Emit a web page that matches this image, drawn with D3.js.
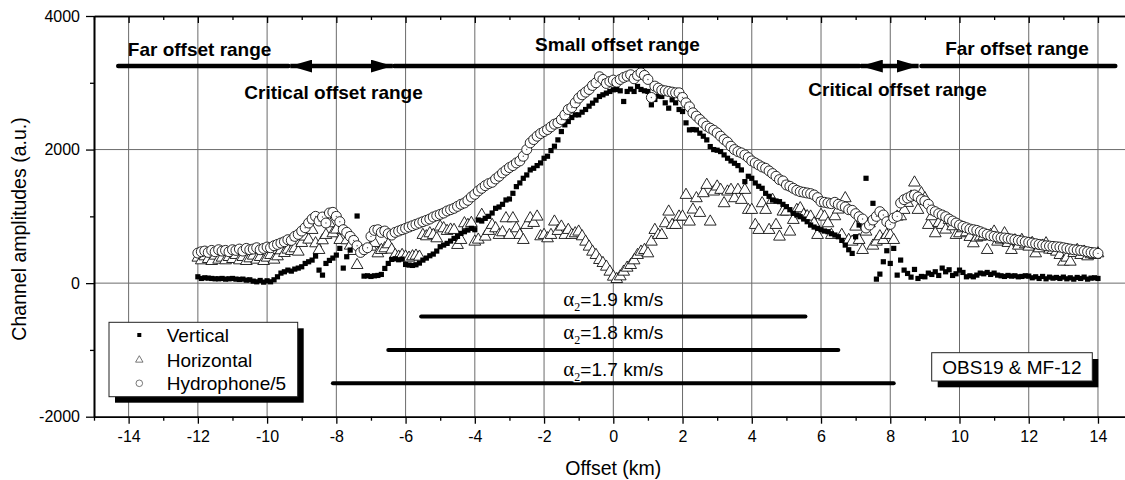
<!DOCTYPE html>
<meta charset="utf-8">
<body style="margin:0;background:#fff">
<script src="https://d3js.org/d3.v7.min.js"></script>
<div id="chart"></div>
<script>

// shot offsets (km), one row per km
var offsets = [
 -12,-11.9,-11.8,-11.7,-11.6,-11.5,-11.4,-11.3,-11.2,-11.1,
 -11,-10.9,-10.8,-10.7,-10.6,-10.5,-10.4,-10.3,-10.2,-10.1,
 -10,-9.9,-9.8,-9.7,-9.6,-9.5,-9.4,-9.3,-9.2,-9.1,
 -9,-8.9,-8.8,-8.7,-8.6,-8.5,-8.4,-8.3,-8.2,-8.1,
 -8,-7.9,-7.8,-7.7,-7.6,-7.5,-7.4,-7.3,-7.2,-7.1,
 -7,-6.9,-6.8,-6.7,-6.6,-6.5,-6.4,-6.3,-6.2,-6.1,
 -6,-5.9,-5.8,-5.7,-5.6,-5.5,-5.4,-5.3,-5.2,-5.1,
 -5,-4.9,-4.8,-4.7,-4.6,-4.5,-4.4,-4.3,-4.2,-4.1,
 -4,-3.9,-3.8,-3.7,-3.6,-3.5,-3.4,-3.3,-3.2,-3.1,
 -3,-2.9,-2.8,-2.7,-2.6,-2.5,-2.4,-2.3,-2.2,-2.1,
 -2,-1.9,-1.8,-1.7,-1.6,-1.5,-1.4,-1.3,-1.2,-1.1,
 -1,-0.9,-0.8,-0.7,-0.6,-0.5,-0.4,-0.3,-0.2,-0.1,
 0,0.1,0.2,0.3,0.4,0.5,0.6,0.7,0.8,0.9,
 1,1.1,1.2,1.3,1.4,1.5,1.6,1.7,1.8,1.9,
 2,2.1,2.2,2.3,2.4,2.5,2.6,2.7,2.8,2.9,
 3,3.1,3.2,3.3,3.4,3.5,3.6,3.7,3.8,3.9,
 4,4.1,4.2,4.3,4.4,4.5,4.6,4.7,4.8,4.9,
 5,5.1,5.2,5.3,5.4,5.5,5.6,5.7,5.8,5.9,
 6,6.1,6.2,6.3,6.4,6.5,6.6,6.7,6.8,6.9,
 7,7.1,7.2,7.3,7.4,7.5,7.6,7.7,7.8,7.9,
 8,8.1,8.2,8.3,8.4,8.5,8.6,8.7,8.8,8.9,
 9,9.1,9.2,9.3,9.4,9.5,9.6,9.7,9.8,9.9,
 10,10.1,10.2,10.3,10.4,10.5,10.6,10.7,10.8,10.9,
 11,11.1,11.2,11.3,11.4,11.5,11.6,11.7,11.8,11.9,
 12,12.1,12.2,12.3,12.4,12.5,12.6,12.7,12.8,12.9,
 13,13.1,13.2,13.3,13.4,13.5,13.6,13.7,13.8,13.9,
 14];

// channel amplitudes (a.u.), null = no trace
var vertical = [
 95,70,80,75,70,65,65,70,60,65,
 70,60,55,60,45,50,30,20,40,15,
 35,20,50,95,150,170,195,180,210,225,
 245,295,320,345,405,195,120,295,340,375,
 420,520,225,395,495,670,1005,null,105,110,
 100,110,115,130,220,295,355,365,350,360,
 280,270,265,275,300,345,375,410,435,480,
 545,570,595,630,670,700,745,770,795,820,
 800,945,930,970,1000,1050,1120,1140,1180,1245,
 1260,1345,1445,1500,1570,1620,1695,1720,1760,1800,
 1870,1900,1985,2050,2145,2270,2370,2420,2480,2520,
 2520,2560,2600,2650,2695,2740,2795,2820,2845,2870,
 2895,2900,2880,2720,2870,2905,2870,2945,2900,2880,
 2870,2670,2750,2800,2795,2700,2620,2745,2700,2600,
 2570,2400,2295,2300,2295,2245,2200,2145,2045,2000,
 1990,1970,1920,1870,1830,1795,1760,1695,1520,1600,
 1570,1500,1450,1420,1345,1300,1245,1230,1220,1180,
 1145,1100,1045,1020,995,960,920,870,840,820,
 800,780,770,740,720,695,640,570,500,445,
 695,870,null,1570,null,1195,60,135,320,485,
 295,520,120,345,195,145,90,205,70,100,
 95,150,130,170,115,225,170,200,115,140,
 195,160,95,110,95,120,150,140,160,130,
 150,120,110,100,115,105,110,95,100,110,
 105,80,95,70,100,65,90,75,85,70,
 90,65,80,60,85,70,90,60,75,80,
 70];

var horizontal = [
 380,340,400,360,330,410,350,380,340,390,
 360,420,340,390,330,370,410,350,390,330,
 380,420,350,400,490,450,500,480,520,470,
 600,695,650,795,595,495,640,720,895,745,
 800,645,795,640,560,480,270,null,null,null,
 545,600,445,495,520,580,500,420,395,420,
 395,380,400,410,395,720,700,745,720,670,
 845,820,780,800,795,570,645,895,870,900,
 620,650,1020,695,780,870,820,720,760,970,
 720,970,820,720,645,870,970,900,995,700,
 720,670,720,920,780,845,720,795,720,745,
 770,700,620,545,470,420,345,300,245,170,
 95,60,100,170,230,270,340,420,470,495,
 445,620,795,720,720,895,1070,870,870,995,
 995,1320,920,1100,1270,1050,1345,1470,920,1370,
 1445,1395,1195,1370,1395,1270,1395,1245,1395,1095,
 1095,870,795,1195,1095,795,1245,870,695,1070,
 1070,770,945,1095,1120,1020,1000,995,895,720,
 1020,995,895,720,1000,1100,720,1270,645,620,
 845,645,495,770,895,560,620,700,645,720,
 720,645,995,1000,1095,1200,1295,1505,1095,1345,
 1270,870,1000,745,900,870,800,945,850,720,
 745,820,760,690,595,680,695,700,495,720,
 770,620,650,745,600,495,640,560,645,580,
 545,600,445,520,560,595,500,495,470,420,
 320,380,320,450,495,420,470,400,430,420,
 445];

var hydrophone = [
 450,470,480,460,490,470,500,480,490,470,
 500,490,510,480,520,500,510,530,500,520,
 540,530,560,580,600,620,650,640,700,730,
 780,830,900,960,1000,930,990,900,1050,1060,
 1000,920,800,760,700,640,560,460,500,530,
 700,790,800,760,780,740,720,760,780,800,
 820,840,860,880,900,920,940,960,990,1010,
 1030,1050,1080,1100,1120,1150,1180,1200,1240,1290,
 1330,1380,1420,1460,1490,1510,1560,1600,1650,1690,
 1730,1760,1800,1830,1900,2000,2100,2150,2200,2240,
 2270,2300,2340,2380,2400,2450,2520,2600,2630,2700,
 2770,2820,2860,2900,2960,3000,3090,3050,2990,3020,
 3040,3010,3050,3080,3100,3120,3060,3110,3150,3110,
 3050,2780,2950,2920,2890,2880,2870,2860,2850,2850,
 2780,2700,2640,2550,2500,2450,2400,2350,2320,2290,
 2250,2200,2150,2110,2050,2000,1970,1950,1920,1880,
 1830,1800,1770,1740,1720,1680,1640,1600,1550,1530,
 1470,1450,1420,1390,1370,1360,1350,1340,1320,1280,
 1220,1210,1200,1190,1210,1180,1160,1140,1100,1090,
 1040,995,960,825,870,945,1000,1070,1020,920,
 880,975,1000,1200,1250,1275,1300,1320,1290,1250,
 1230,1180,1095,1070,1040,1020,995,960,930,900,
 870,850,830,810,800,790,770,750,730,710,
 700,690,680,675,670,660,650,640,630,620,
 610,600,590,580,570,560,555,550,545,540,
 530,520,510,500,495,490,480,470,460,455,
 445];

var seriesNames = ["Vertical", "Horizontal", "Hydrophone/5"];

var xMajor = [-14, -12, -10, -8, -6, -4, -2, 0, 2, 4, 6, 8, 10, 12, 14];
var xMinor = [-15, -13, -11, -9, -7, -5, -3, -1, 1, 3, 5, 7, 9, 11, 13, 15];
var yMajor = [-2000, 0, 2000, 4000];
var yMinor = [-1000, 1000, 3000];

// offset ranges along the top (km)
var rangeNames = ["Far offset range", "Critical offset range", "Small offset range", "Critical offset range", "Far offset range"];
var rangeFrom = [-14.3, -9.33, -6.33, 7.15, 8.9];
var rangeTo = [-9.38, -6.37, 7.11, 8.82, 14.5];
var rangeArrow = [false, true, false, true, false];
var rangeLevel = 3250;
var rangeTextX = [-11.95, -8.08, 0.12, 8.21, 11.66];
var rangeTextY = [3500, 2860, 3570, 2900, 3520];

// velocity bars
var velocities = ["1.9", "1.8", "1.7"];
var velFrom = [-5.55, -6.5, -8.1];
var velTo = [5.55, 6.5, 8.1];
var velLevel = [-500, -1000, -1500];

var W = 1125, H = 480;
var font = "'Liberation Sans', Arial, sans-serif";

var x = d3.scaleLinear().domain([-15, 15]).range([94, 1132.6]);
var y = d3.scaleLinear().domain([-2000, 4000]).range([416.7, 16]);

var svg = d3.select("#chart")
  .append("svg")
    .attr("width", W)
    .attr("height", H)
    .style("font-family", font);

svg.append("rect").attr("width", W).attr("height", H).attr("fill", "#fff");

// grid
svg.append("g")
  .selectAll("line")
  .data(xMajor)
  .join("line")
    .attr("x1", function(d){ return x(d); })
    .attr("x2", function(d){ return x(d); })
    .attr("y1", y(4000))
    .attr("y2", y(-2000))
    .attr("stroke", "#6b6b6b")
    .attr("stroke-width", 1);

svg.append("g")
  .selectAll("line")
  .data([0, 2000])
  .join("line")
    .attr("x1", x(-15))
    .attr("x2", W)
    .attr("y1", function(d){ return y(d); })
    .attr("y2", function(d){ return y(d); })
    .attr("stroke", "#6b6b6b")
    .attr("stroke-width", 1);

// axes
function styleAxis(g) {
  g.select(".domain").attr("stroke", "#000").attr("stroke-width", 1.6);
  g.selectAll(".tick line").attr("stroke", "#000").attr("stroke-width", 1.3);
  g.selectAll("text").attr("font-size", 16).attr("font-family", font).attr("fill", "#000");
}

svg.append("g")
  .attr("transform", "translate(0," + y(-2000) + ")")
  .call(d3.axisBottom(x).tickValues(xMajor).tickSize(7).tickSizeOuter(0).tickPadding(7)
        .tickFormat(function(d){ return String(d); }))
  .call(styleAxis);

svg.append("g")
  .attr("transform", "translate(0," + y(-2000) + ")")
  .call(d3.axisBottom(x).tickValues(xMinor).tickSize(4).tickSizeOuter(0).tickFormat(""))
  .call(styleAxis);

svg.append("g")
  .attr("transform", "translate(0," + y(4000) + ")")
  .call(d3.axisTop(x).tickValues(xMajor).tickSize(-7).tickSizeOuter(0).tickFormat(""))
  .call(styleAxis);

svg.append("g")
  .attr("transform", "translate(0," + y(4000) + ")")
  .call(d3.axisTop(x).tickValues(xMinor).tickSize(-4).tickSizeOuter(0).tickFormat(""))
  .call(styleAxis);

svg.append("g")
  .attr("transform", "translate(" + x(-15) + ",0)")
  .call(d3.axisLeft(y).tickValues(yMajor).tickSize(8).tickSizeOuter(0).tickPadding(6)
        .tickFormat(function(d){ return String(d); }))
  .call(styleAxis);

svg.append("g")
  .attr("transform", "translate(" + x(-15) + ",0)")
  .call(d3.axisLeft(y).tickValues(yMinor).tickSize(4).tickSizeOuter(0).tickFormat(""))
  .call(styleAxis);

// axis titles
svg.append("text")
    .attr("x", x(0))
    .attr("y", 475)
    .attr("text-anchor", "middle")
    .attr("font-size", 19.5)
    .text("Offset (km)");

svg.append("text")
    .attr("transform", "translate(26,229) rotate(-90)")
    .attr("text-anchor", "middle")
    .attr("font-size", 19.5)
    .text("Channel amplitudes (a.u.)");

// data points
function points(values) {
  return offsets.map(function(o, i){ return {x: o, v: values[i]}; })
                .filter(function(d){ return d.v !== null; });
}

var triangle = d3.symbol().type(d3.symbolTriangle).size(60);

svg.append("g")
  .selectAll("path")
  .data(points(horizontal))
  .join("path")
    .attr("d", triangle)
    .attr("transform", function(d){ return "translate(" + x(d.x) + "," + y(d.v) + ")"; })
    .attr("fill", "#fff")
    .attr("stroke", "#111")
    .attr("stroke-width", 0.9);

svg.append("g")
  .selectAll("rect")
  .data(points(vertical))
  .join("rect")
    .attr("x", function(d){ return x(d.x) - 2.6; })
    .attr("y", function(d){ return y(d.v) - 2.6; })
    .attr("width", 5.2)
    .attr("height", 5.2)
    .attr("fill", "#000");

var hyd = svg.append("g")
  .selectAll("g")
  .data(points(hydrophone))
  .join("g")
    .attr("transform", function(d){ return "translate(" + x(d.x) + "," + y(d.v) + ")"; });

hyd.append("circle")
    .attr("r", 5)
    .attr("fill", "#fff")
    .attr("stroke", "#111")
    .attr("stroke-width", 0.9);

hyd.append("circle")
    .attr("r", 0.7)
    .attr("fill", "#555");

// offset range bars and arrows
svg.append("defs")
  .append("marker")
    .attr("id", "head")
    .attr("viewBox", "0 0 22 13")
    .attr("refX", 22)
    .attr("refY", 6.5)
    .attr("markerWidth", 22)
    .attr("markerHeight", 13)
    .attr("markerUnits", "userSpaceOnUse")
    .attr("orient", "auto-start-reverse")
  .append("path")
    .attr("d", "M0,0L22,6.5L0,13Z")
    .attr("fill", "#000");

var ranges = rangeNames.map(function(n, i){
  return {name: n, from: rangeFrom[i], to: rangeTo[i], arrow: rangeArrow[i],
          tx: rangeTextX[i], ty: rangeTextY[i]};
});

svg.append("g")
  .selectAll("line")
  .data(ranges)
  .join("line")
    .attr("x1", function(d){ return x(d.from); })
    .attr("x2", function(d){ return x(d.to); })
    .attr("y1", y(rangeLevel))
    .attr("y2", y(rangeLevel))
    .attr("stroke", "#000")
    .attr("stroke-width", 4.5)
    .attr("stroke-linecap", function(d){ return d.arrow ? "butt" : "round"; })
    .attr("marker-start", function(d){ return d.arrow ? "url(#head)" : null; })
    .attr("marker-end", function(d){ return d.arrow ? "url(#head)" : null; });

svg.append("g")
  .selectAll("text")
  .data(ranges)
  .join("text")
    .attr("x", function(d){ return x(d.tx); })
    .attr("y", function(d){ return y(d.ty); })
    .attr("text-anchor", "middle")
    .attr("dominant-baseline", "central")
    .attr("font-size", 19)
    .attr("font-weight", "bold")
    .text(function(d){ return d.name; });

// velocity bars
var vels = velocities.map(function(v, i){
  return {label: v, from: velFrom[i], to: velTo[i], level: velLevel[i]};
});

svg.append("g")
  .selectAll("line")
  .data(vels)
  .join("line")
    .attr("x1", function(d){ return x(d.from); })
    .attr("x2", function(d){ return x(d.to); })
    .attr("y1", function(d){ return y(d.level); })
    .attr("y2", function(d){ return y(d.level); })
    .attr("stroke", "#000")
    .attr("stroke-width", 4)
    .attr("stroke-linecap", "round");

var velText = svg.append("g")
  .selectAll("text")
  .data(vels)
  .join("text")
    .attr("x", x(0))
    .attr("y", function(d, i){ return y(d.level) - (i == 2 ? 7 : 11); })
    .attr("text-anchor", "middle")
    .attr("font-size", 19);

velText.append("tspan")
    .attr("font-family", "'Liberation Serif', 'Times New Roman', serif")
    .attr("font-size", 21)
    .text("\u03b1");
velText.append("tspan")
    .attr("font-family", "'Liberation Serif', 'Times New Roman', serif")
    .attr("font-size", 12)
    .attr("dy", 5)
    .attr("stroke", "#fff")
    .attr("stroke-width", 2.5)
    .attr("paint-order", "stroke")
    .text("2");
velText.append("tspan")
    .attr("dy", -5)
    .text(function(d){ return "=" + d.label + " km/s"; });

// legend
var legend = svg.append("g").attr("transform", "translate(109,322.3)");
legend.append("rect").attr("x", 6).attr("y", 6).attr("width", 188.7).attr("height", 74.4).attr("fill", "#000");
legend.append("rect").attr("width", 188.7).attr("height", 74.4).attr("fill", "#fff")
    .attr("stroke", "#222").attr("stroke-width", 1);

var legendRows = [12.7, 37.7, 61];
var items = legend.selectAll(".item")
  .data(seriesNames)
  .join("g")
    .attr("class", "item")
    .attr("transform", function(d, i){ return "translate(30.3," + legendRows[i] + ")"; });

items.filter(function(d, i){ return i == 0; })
  .append("rect").attr("x", -2).attr("y", -2).attr("width", 4).attr("height", 4).attr("fill", "#000");
items.filter(function(d, i){ return i == 1; })
  .append("path").attr("d", d3.symbol().type(d3.symbolTriangle).size(24))
  .attr("fill", "#fff").attr("stroke", "#555").attr("stroke-width", 0.8);
items.filter(function(d, i){ return i == 2; })
  .append("circle").attr("r", 3.3).attr("fill", "#fff").attr("stroke", "#555").attr("stroke-width", 0.8);

items.append("text")
    .attr("x", 27.4)
    .attr("dominant-baseline", "central")
    .attr("font-size", 19)
    .text(function(d){ return d; });

// station label
var station = svg.append("g").attr("transform", "translate(931.7,352.7)");
station.append("rect").attr("x", 6).attr("y", 6.3).attr("width", 160.6).attr("height", 28.3).attr("fill", "#000");
station.append("rect").attr("width", 160.6).attr("height", 28.3).attr("fill", "#fff")
    .attr("stroke", "#222").attr("stroke-width", 1);
station.append("text")
    .attr("x", 80.3)
    .attr("y", 14.5)
    .attr("text-anchor", "middle")
    .attr("dominant-baseline", "central")
    .attr("font-size", 19)
    .text("OBS19 & MF-12");

</script>
</body>
